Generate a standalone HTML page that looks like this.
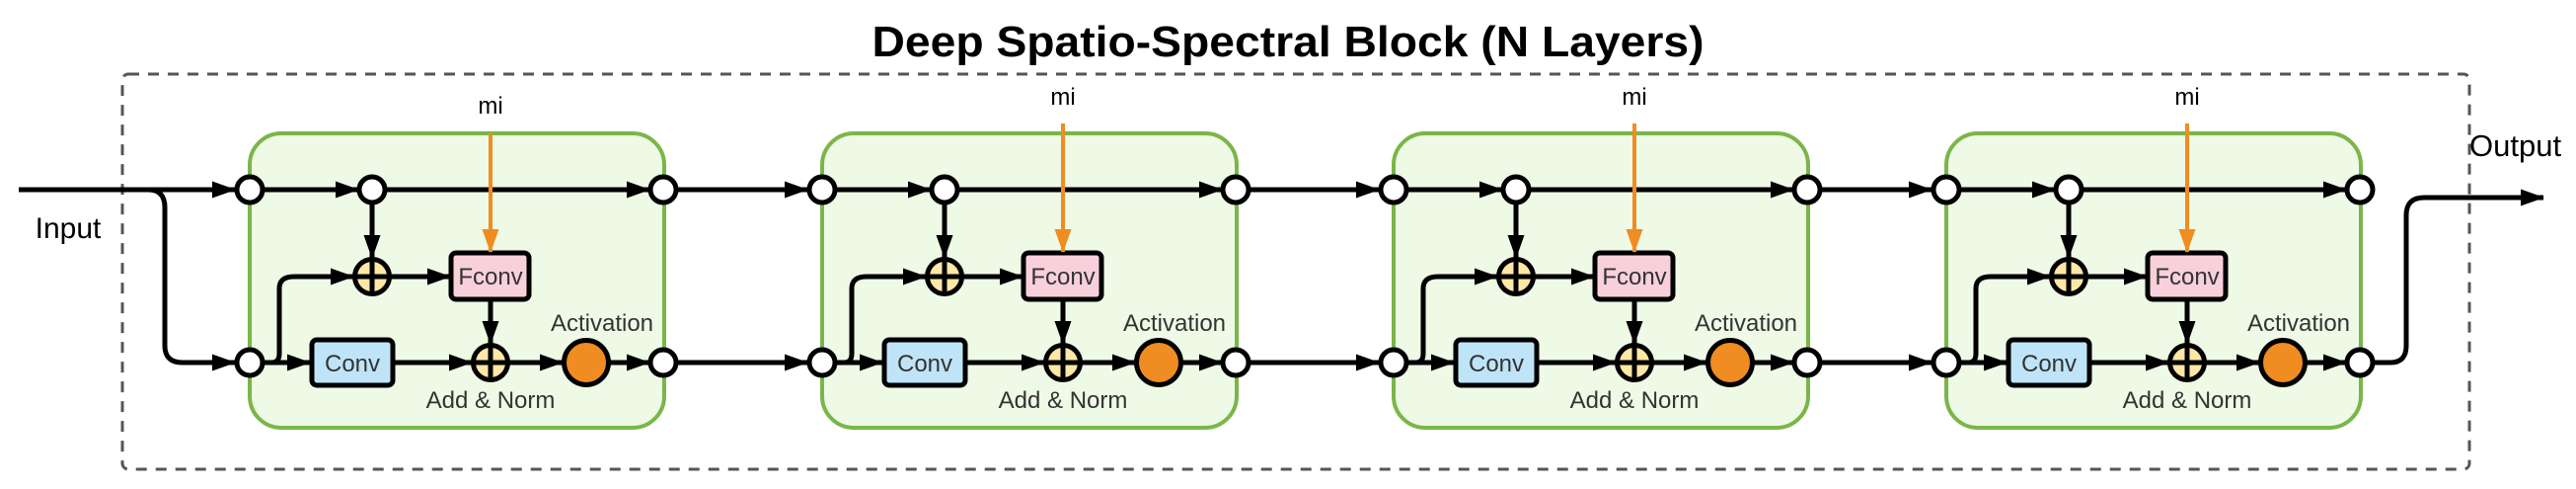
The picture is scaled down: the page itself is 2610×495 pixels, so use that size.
<!DOCTYPE html>
<html><head><meta charset="utf-8"><style>
html,body{margin:0;padding:0;background:#fff}
svg{display:block}
text{font-family:"Liberation Sans",Arial,sans-serif}
</style></head><body>
<svg width="2610" height="495" viewBox="0 0 2610 495" xmlns="http://www.w3.org/2000/svg">
<defs>
<marker id="a" markerUnits="userSpaceOnUse" markerWidth="24" markerHeight="18" refX="23" refY="8.5" orient="auto"><path d="M0,0 L24,8.5 L0,17 z" fill="#000"/></marker>
<marker id="o" markerUnits="userSpaceOnUse" markerWidth="24" markerHeight="18" refX="23" refY="8.5" orient="auto"><path d="M0,0 L24,8.5 L0,17 z" fill="#ef8c22"/></marker>
<g id="blk">
<rect x="0" y="135" width="420" height="298" rx="32" fill="#eef9e6" stroke="#7ab648" stroke-width="4"/>
<g stroke="#000" stroke-width="5" fill="none">
<line x1="13" y1="192" x2="110" y2="192" marker-end="url(#a)"/>
<line x1="138" y1="192" x2="405" y2="192" marker-end="url(#a)"/>
<line x1="124" y1="206" x2="124" y2="261" marker-end="url(#a)"/>
<path d="M13,367 H22 Q30,367 30,358 V292 Q30,280 45,280 H105" marker-end="url(#a)"/>
<line x1="142" y1="280" x2="203" y2="280" marker-end="url(#a)"/>
<line x1="244" y1="303" x2="244" y2="348" marker-end="url(#a)"/>
<line x1="13" y1="367" x2="61" y2="367" marker-end="url(#a)"/>
<line x1="146" y1="367" x2="225" y2="367" marker-end="url(#a)"/>
<line x1="262" y1="367" x2="317" y2="367" marker-end="url(#a)"/>
<line x1="364" y1="367" x2="405" y2="367" marker-end="url(#a)"/>
</g>
<circle cx="0" cy="192" r="13" fill="#fff" stroke="#000" stroke-width="5"/>
<circle cx="124" cy="192" r="13" fill="#fff" stroke="#000" stroke-width="5"/>
<circle cx="419" cy="192" r="13" fill="#fff" stroke="#000" stroke-width="5"/>
<circle cx="0" cy="367" r="13" fill="#fff" stroke="#000" stroke-width="5"/>
<circle cx="419" cy="367" r="13" fill="#fff" stroke="#000" stroke-width="5"/>
<g stroke="#000" stroke-width="5">
<circle cx="124" cy="280" r="17.5" fill="#ffe7a5"/>
<line x1="106" y1="280" x2="142" y2="280"/><line x1="124" y1="262" x2="124" y2="298"/>
<circle cx="244" cy="367" r="17.5" fill="#ffe7a5"/>
<line x1="226" y1="367" x2="262" y2="367"/><line x1="244" y1="349" x2="244" y2="385"/>
<rect x="204" y="256" width="79" height="47" rx="5" fill="#f8d0dc"/>
<rect x="63" y="344" width="82" height="46" rx="5" fill="#c0e4f7"/>
<circle cx="341" cy="367" r="22.5" fill="#ef8c22"/>
</g>
<text x="244" y="288" font-size="24" fill="#333" text-anchor="middle">Fconv</text>
<text x="104" y="376" font-size="24" fill="#333" text-anchor="middle">Conv</text>
<text x="357" y="335" font-size="24" fill="#333" text-anchor="middle">Activation</text>
<text x="244" y="413" font-size="24" fill="#333" text-anchor="middle">Add &amp; Norm</text>
</g>
</defs>
<text x="1305" y="57" font-size="44" font-weight="bold" text-anchor="middle" textLength="843" lengthAdjust="spacingAndGlyphs">Deep Spatio-Spectral Block (N Layers)</text>
<rect x="124" y="75" width="2378" height="400" rx="6" fill="none" stroke="#555" stroke-width="3" stroke-dasharray="11,9"/>
<g stroke="#000" stroke-width="5" fill="none">
<line x1="19" y1="192" x2="238" y2="192" marker-end="url(#a)"/>
<path d="M150,192 Q167,192 167,210 V350 Q167,367 185,367 H238" marker-end="url(#a)"/>
<line x1="686" y1="192" x2="818" y2="192" marker-end="url(#a)"/>
<line x1="686" y1="367" x2="818" y2="367" marker-end="url(#a)"/>
<line x1="1266" y1="192" x2="1397" y2="192" marker-end="url(#a)"/>
<line x1="1266" y1="367" x2="1397" y2="367" marker-end="url(#a)"/>
<line x1="1845" y1="192" x2="1957" y2="192" marker-end="url(#a)"/>
<line x1="1845" y1="367" x2="1957" y2="367" marker-end="url(#a)"/>
<path d="M2405,367 H2422 Q2438,367 2438,350 V218 Q2438,200 2456,200 H2577" marker-end="url(#a)"/>
</g>
<use href="#blk" x="253"/>
<use href="#blk" x="833"/>
<use href="#blk" x="1412"/>
<use href="#blk" x="1972"/>
<g stroke="#ef8c22" stroke-width="4" fill="none">
<line x1="497" y1="135" x2="497" y2="255" marker-end="url(#o)"/>
<line x1="1077" y1="125" x2="1077" y2="255" marker-end="url(#o)"/>
<line x1="1656" y1="125" x2="1656" y2="255" marker-end="url(#o)"/>
<line x1="2216" y1="125" x2="2216" y2="255" marker-end="url(#o)"/>
</g>
<g font-size="24" fill="#000" text-anchor="middle">
<text x="497" y="115">mi</text>
<text x="1077" y="106">mi</text>
<text x="1656" y="106">mi</text>
<text x="2216" y="106">mi</text>
</g>
<text x="69" y="241" font-size="30" text-anchor="middle">Input</text>
<text x="2502" y="158" font-size="31">Output</text>
</svg>
</body></html>
